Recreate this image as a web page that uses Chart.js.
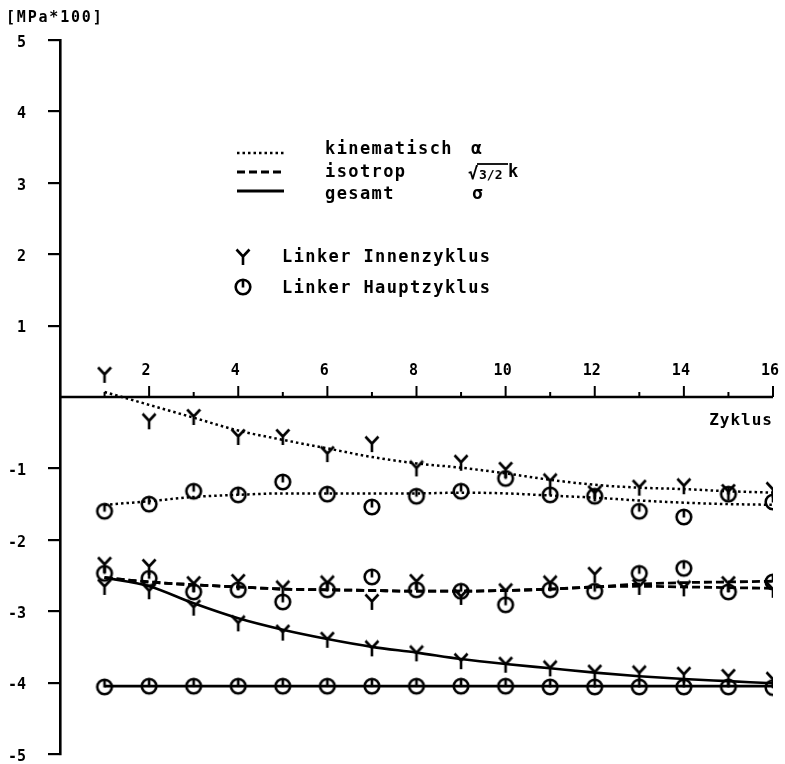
<!DOCTYPE html>
<html>
<head>
<meta charset="utf-8">
<script src="https://cdn.jsdelivr.net/npm/chart.js@4.4.1/dist/chart.umd.min.js"></script>
<style>
  html, body { margin: 0; padding: 0; background: #fff; }
</style>
</head>
<body>
<canvas id="chart" width="785" height="764"></canvas>
<script>
// cycle numbers on the x axis
const cycles = [1, 2, 3, 4, 5, 6, 7, 8, 9, 10, 11, 12, 13, 14, 15, 16];
const xTickLabels = [2, 4, 6, 8, 10, 12, 14, 16];
const yTicks = [5, 4, 3, 2, 1, -1, -2, -3, -4, -5];

// kinematisch (alpha) - measured points and fitted curve
const kinInnenPts = [0.31, -0.34, -0.28, -0.56, -0.56, -0.80, -0.66, -1.00, -0.92, -1.02, -1.18, -1.35, -1.27, -1.25, -1.33, -1.30];
const kinHauptPts = [-1.60, -1.50, -1.32, -1.37, -1.19, -1.36, -1.54, -1.39, -1.32, -1.14, -1.37, -1.39, -1.60, -1.68, -1.36, -1.47];
const kinInnenFit = [0.07, -0.11, -0.29, -0.47, -0.60, -0.72, -0.84, -0.93, -0.99, -1.07, -1.16, -1.23, -1.27, -1.29, -1.32, -1.34];
const kinHauptFit = [-1.51, -1.46, -1.40, -1.37, -1.35, -1.35, -1.35, -1.35, -1.34, -1.35, -1.38, -1.41, -1.45, -1.48, -1.50, -1.51];

// isotrop (sqrt(3/2) k)
const isoInnenPts = [-2.35, -2.38, -2.62, -2.59, -2.68, -2.61, -2.87, -2.59, -2.80, -2.72, -2.61, -2.49, -2.66, -2.68, -2.62, -2.70];
const isoHauptPts = [-2.47, -2.54, -2.73, -2.70, -2.87, -2.70, -2.52, -2.70, -2.72, -2.91, -2.70, -2.72, -2.47, -2.40, -2.73, -2.59];
const isoInnenFit = [-2.53, -2.59, -2.63, -2.66, -2.69, -2.70, -2.71, -2.72, -2.72, -2.71, -2.69, -2.66, -2.65, -2.66, -2.67, -2.68];
const isoHauptFit = [-2.53, -2.59, -2.63, -2.66, -2.69, -2.70, -2.71, -2.72, -2.72, -2.71, -2.69, -2.66, -2.62, -2.60, -2.59, -2.58];

// gesamt (sigma)
const gesInnenPts = [-2.66, -2.72, -2.95, -3.17, -3.30, -3.40, -3.52, -3.59, -3.70, -3.75, -3.80, -3.86, -3.87, -3.89, -3.92, -3.96];
const gesHauptPts = [-4.06, -4.05, -4.05, -4.05, -4.05, -4.05, -4.05, -4.05, -4.05, -4.05, -4.06, -4.06, -4.06, -4.06, -4.06, -4.07];
const gesInnenFit = [-2.53, -2.65, -2.89, -3.10, -3.26, -3.39, -3.50, -3.58, -3.67, -3.74, -3.80, -3.86, -3.91, -3.95, -3.98, -4.01];
const gesHauptFit = [-4.05, -4.05, -4.05, -4.05, -4.05, -4.05, -4.05, -4.05, -4.05, -4.05, -4.05, -4.05, -4.05, -4.05, -4.05, -4.05];

const INK = '#000';
const MONO = '"DejaVu Sans Mono", "Liberation Mono", monospace';

// plotter style marker glyphs
function makeY() {
  const c = document.createElement('canvas');
  c.width = 16; c.height = 18;
  const g = c.getContext('2d');
  g.strokeStyle = INK;
  g.lineWidth = 2.6;
  g.beginPath();
  g.moveTo(1.5, 1.5); g.lineTo(8, 8.5); g.lineTo(14.5, 1.5);
  g.moveTo(8, 8.5); g.lineTo(8, 17);
  g.stroke();
  return c;
}

function makeO() {
  const c = document.createElement('canvas');
  c.width = 20; c.height = 20;
  const g = c.getContext('2d');
  g.strokeStyle = INK;
  g.lineWidth = 2.6;
  g.beginPath();
  g.arc(10, 10, 7.3, 0, Math.PI * 2);
  g.stroke();
  g.beginPath();
  g.moveTo(10, 3); g.lineTo(10, 10.5);
  g.stroke();
  return c;
}

const yGlyph = makeY();
const oGlyph = makeO();

const toXY = arr => arr.map((v, i) => ({ x: cycles[i], y: v }));

function fit(arr, dash, width) {
  return {
    data: toXY(arr),
    showLine: true,
    borderColor: INK,
    borderWidth: width,
    borderDash: dash,
    pointRadius: 0,
    cubicInterpolationMode: 'monotone',
    order: 2
  };
}

function marks(arr, glyph) {
  return {
    data: toXY(arr),
    showLine: false,
    pointStyle: glyph,
    pointRadius: 8,
    order: 1
  };
}

const DOT = [2.5, 3];
const DASH = [8, 4];

// x axis in the middle at y = 0, ticks pointing up, labels above
const middleAxis = {
  id: 'middleAxis',
  beforeDatasetsDraw(chart) {
    const { ctx, chartArea, scales: { x, y } } = chart;
    const y0 = y.getPixelForValue(0);
    ctx.save();
    ctx.strokeStyle = INK;
    ctx.lineWidth = 2.6;
    ctx.beginPath();
    ctx.moveTo(chartArea.left, y0);
    ctx.lineTo(x.getPixelForValue(16), y0);
    ctx.stroke();
    ctx.lineWidth = 2;
    cycles.forEach(v => {
      const px = x.getPixelForValue(v);
      const len = v % 2 === 0 ? 11 : 5;
      ctx.beginPath();
      ctx.moveTo(px, y0);
      ctx.lineTo(px, y0 - len);
      ctx.stroke();
    });
    ctx.fillStyle = INK;
    ctx.font = 'bold 15px ' + MONO;
    ctx.textAlign = 'center';
    ctx.textBaseline = 'middle';
    xTickLabels.forEach(v => {
      ctx.fillText(String(v), x.getPixelForValue(v) - 3, y0 - 26);
    });
    ctx.font = 'bold 16px ' + MONO;
    ctx.letterSpacing = '1px';
    ctx.textAlign = 'right';
    ctx.fillText('Zyklus', x.getPixelForValue(16), y0 + 24);
    ctx.restore();
  }
};

// unit label and legend block
const annotations = {
  id: 'annotations',
  afterDraw(chart) {
    const { ctx } = chart;
    ctx.save();
    ctx.fillStyle = INK;
    ctx.strokeStyle = INK;
    ctx.textBaseline = 'middle';
    ctx.textAlign = 'left';

    ctx.font = 'bold 15px ' + MONO;
    ctx.letterSpacing = '1.8px';
    ctx.fillText('[MPa*100]', 6, 18);

    // line samples
    const samples = [[DOT, 153, 2.5], [DASH, 172, 2.8], [[], 191, 2.8]];
    samples.forEach(([dash, yy, w]) => {
      ctx.setLineDash(dash);
      ctx.lineWidth = w;
      ctx.beginPath();
      ctx.moveTo(237, yy);
      ctx.lineTo(284, yy);
      ctx.stroke();
    });
    ctx.setLineDash([]);

    ctx.font = 'bold 17px ' + MONO;
    ctx.letterSpacing = '1.4px';
    ctx.fillText('kinematisch', 325, 150);
    ctx.fillText('isotrop', 325, 173);
    ctx.fillText('gesamt', 325, 195);
    ctx.fillText('Linker Innenzyklus', 282, 258);
    ctx.fillText('Linker Hauptzyklus', 282, 289);

    ctx.letterSpacing = '0px';
    ctx.font = 'bold 18px ' + MONO;
    ctx.fillText('α', 471, 149);
    ctx.fillText('σ', 472, 194);
    // sqrt(3/2) k
    ctx.font = 'bold 17px ' + MONO;
    ctx.fillText('√', 468, 175);
    ctx.font = 'bold 13px ' + MONO;
    ctx.fillText('3/2', 479, 176);
    ctx.lineWidth = 1.8;
    ctx.beginPath();
    ctx.moveTo(477, 164);
    ctx.lineTo(508, 164);
    ctx.stroke();
    ctx.font = 'bold 17px ' + MONO;
    ctx.fillText('k', 508, 173);

    ctx.drawImage(yGlyph, 243 - 8, 257 - 9);
    ctx.drawImage(oGlyph, 243 - 10, 287 - 10);
    ctx.restore();
  }
};

new Chart(document.getElementById('chart'), {
  type: 'scatter',
  data: {
    datasets: [
      fit(kinInnenFit, DOT, 2.5),
      fit(kinHauptFit, DOT, 2.5),
      fit(isoInnenFit, DASH, 2.8),
      fit(isoHauptFit, DASH, 2.8),
      fit(gesInnenFit, [], 2.6),
      fit(gesHauptFit, [], 2.6),
      marks(kinInnenPts, yGlyph),
      marks(kinHauptPts, oGlyph),
      marks(isoInnenPts, yGlyph),
      marks(isoHauptPts, oGlyph),
      marks(gesInnenPts, yGlyph),
      marks(gesHauptPts, oGlyph)
    ]
  },
  options: {
    responsive: false,
    devicePixelRatio: 1,
    animation: false,
    layout: { padding: { left: 0, top: 40, right: 12, bottom: 10 } },
    plugins: {
      legend: { display: false },
      tooltip: { enabled: false }
    },
    scales: {
      x: {
        type: 'linear',
        display: false,
        min: 0,
        max: 16
      },
      y: {
        min: -5,
        max: 5,
        afterFit(scale) {
          scale.width = 60;
          // label padding would otherwise push the plot area up
          scale.paddingTop = 0;
          scale.paddingBottom = 0;
        },
        afterBuildTicks(scale) { scale.ticks = yTicks.map(v => ({ value: v })); },
        grid: {
          drawOnChartArea: false,
          drawTicks: true,
          tickLength: 12,
          color: INK,
          lineWidth: 2.2
        },
        border: { display: true, color: INK, width: 2.6 },
        ticks: {
          color: INK,
          padding: 22,
          labelOffset: 3,
          font: { family: MONO, size: 15, weight: 'bold' }
        }
      }
    }
  },
  plugins: [middleAxis, annotations]
});
</script>
</body>
</html>
